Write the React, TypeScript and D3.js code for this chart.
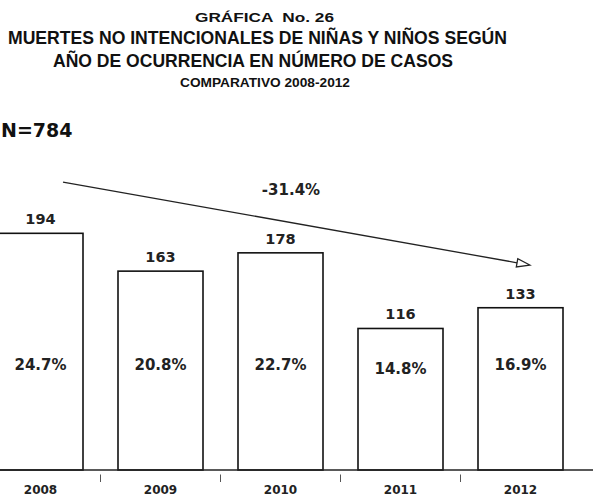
import React from "react";
import * as d3 from "d3";

const years = ["2008", "2009", "2010", "2011", "2012"];
const cases = [194, 163, 178, 116, 133];
const percents = ["24.7%", "20.8%", "22.7%", "14.8%", "16.9%"];
const totalLabel = "N=784";
const titleLines = [
  "GRÁFICA  No. 26",
  "MUERTES NO INTENCIONALES DE NIÑAS Y NIÑOS SEGÚN",
  "AÑO DE OCURRENCIA EN NÚMERO DE CASOS",
  "COMPARATIVO 2008-2012",
];

const W = 593;
const H = 496;
const baseY = 470;

export default function App() {
  const x = d3
    .scaleBand<string>()
    .domain(years)
    .range([-19.5, 580.5])
    .paddingInner(35 / 120)
    .paddingOuter(35 / 240);
  const y = d3.scaleLinear().domain([0, 200]).range([baseY, baseY - 244]);
  const bw = x.bandwidth();
  const step = x.step();

  const change = (cases[cases.length - 1] - cases[0]) / cases[0];
  const changeLabel = d3.format(".1%")(change).replace("−", "-");

  const ax1 = (x(years[0]) as number) + bw * 0.765;
  const ay1 = y(236);
  const ax2 = (x(years[years.length - 1]) as number) + bw * 0.61;
  const ay2 = y(168);
  const ang = Math.atan2(ay2 - ay1, ax2 - ax1);
  const headLen = 13;
  const headHalf = 4.2;
  const bx = ax2 - headLen * Math.cos(ang);
  const by = ay2 - headLen * Math.sin(ang);
  const px = -Math.sin(ang) * headHalf;
  const py = Math.cos(ang) * headHalf;

  const titleFont = "'Liberation Sans', Arial, sans-serif";
  const chartFont = "'DejaVu Sans', Verdana, sans-serif";

  const titleSpecs = [
    { cx: 264.5, yb: 22, size: 12, len: 139 },
    { cx: 257.5, yb: 44, size: 17.5, len: 499 },
    { cx: 253, yb: 67, size: 17.5, len: 400 },
    { cx: 265, yb: 87, size: 13, len: 170 },
  ];

  return (
    <svg
      width={W}
      height={H}
      style={{ position: "absolute", left: 0, top: 0, background: "#fff" }}
    >
      <rect x={0} y={0} width={W} height={H} fill="#fff" />
      {titleLines.map((t, i) => (
        <text
          key={t}
          x={titleSpecs[i].cx - titleSpecs[i].len / 2}
          y={titleSpecs[i].yb}
          fontFamily={titleFont}
          fontWeight="bold"
          fontSize={titleSpecs[i].size}
          textLength={titleSpecs[i].len}
          lengthAdjust="spacingAndGlyphs"
          fill="#111"
          style={{ whiteSpace: "pre" }}
        >
          {t}
        </text>
      ))}
      <text
        x={1}
        y={137}
        textAnchor="start"
        fontFamily={chartFont}
        fontWeight="bold"
        fontSize={19}
        fill="#111"
      >
        {totalLabel}
      </text>

      {/* bars */}
      {years.map((yr, i) => (
        <rect
          key={yr}
          x={x(yr)}
          y={y(cases[i])}
          width={bw}
          height={baseY - y(cases[i])}
          fill="#fff"
          stroke="#111"
          strokeWidth={1.6}
        />
      ))}
      {/* baseline */}
      <line x1={0} x2={W} y1={baseY} y2={baseY} stroke="#222" strokeWidth={1.4} />
      {/* ticks between bars */}
      {years.slice(0, -1).map((yr) => {
        const tx = (x(yr) as number) + bw + (step - bw) / 2;
        return (
          <line
            key={"t" + yr}
            x1={tx}
            x2={tx}
            y1={baseY + 4.5}
            y2={baseY + 12}
            stroke="#555"
            strokeWidth={1}
          />
        );
      })}
      {/* value labels */}
      {years.map((yr, i) => (
        <text
          key={"v" + yr}
          x={(x(yr) as number) + bw / 2}
          y={y(cases[i]) - 9}
          textAnchor="middle"
          fontFamily={chartFont}
          fontWeight="bold"
          fontSize={14.5}
          fill="#222"
        >
          {cases[i]}
        </text>
      ))}
      {/* percent labels */}
      {years.map((yr, i) => (
        <text
          key={"p" + yr}
          x={(x(yr) as number) + bw / 2}
          y={i === 3 ? 374 : 370}
          textAnchor="middle"
          fontFamily={chartFont}
          fontWeight="bold"
          fontSize={15}
          fill="#222"
        >
          {percents[i]}
        </text>
      ))}
      {/* year labels */}
      {years.map((yr) => (
        <text
          key={"y" + yr}
          x={(x(yr) as number) + bw / 2}
          y={494}
          textAnchor="middle"
          fontFamily={chartFont}
          fontWeight="bold"
          fontSize={12}
          fill="#222"
        >
          {yr}
        </text>
      ))}
      {/* trend arrow */}
      <line x1={ax1} y1={ay1} x2={bx} y2={by} stroke="#222" strokeWidth={1.3} />
      <polygon
        points={`${ax2},${ay2} ${bx + px},${by + py} ${bx - px},${by - py}`}
        fill="#fff"
        stroke="#222"
        strokeWidth={1.3}
      />
      <text
        x={291}
        y={195}
        textAnchor="middle"
        fontFamily={chartFont}
        fontWeight="bold"
        fontSize={15}
        fill="#222"
      >
        {changeLabel}
      </text>
    </svg>
  );
}
